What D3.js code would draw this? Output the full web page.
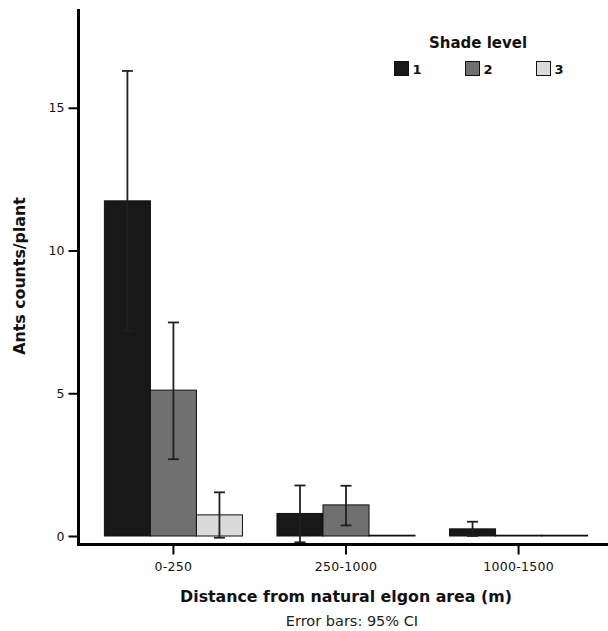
<!DOCTYPE html>
<html>
<head>
<meta charset="utf-8">
<script src="https://cdn.jsdelivr.net/npm/d3@7"></script>
<style>
  html, body { margin: 0; padding: 0; background: #fff; }
  svg { display: block; }
</style>
</head>
<body>
<svg id="chart" width="608" height="631"></svg>
<script>
// ---- data ----
const categories = ["0-250", "250-1000", "1000-1500"];
const shadeLevels = ["1", "2", "3"];
const meanShade1 = [11.74, 0.79, 0.25];
const meanShade2 = [5.11, 1.09, 0];
const meanShade3 = [0.74, 0, 0];
const upperShade1 = [16.29, 1.77, 0.50];
const lowerShade1 = [7.19, -0.22, 0.0];
const upperShade2 = [7.48, 1.76, 0];
const lowerShade2 = [2.69, 0.37, 0];
const upperShade3 = [1.53, 0, 0];
const lowerShade3 = [-0.06, 0, 0];
const yTicks = [0, 5, 10, 15];
const yMax = 18.46;

const means = [meanShade1, meanShade2, meanShade3];
const uppers = [upperShade1, upperShade2, upperShade3];
const lowers = [lowerShade1, lowerShade2, lowerShade3];
const colors = ["#181818", "#707070", "#dadada"];

const rows = [];
categories.forEach((c, ci) => {
  shadeLevels.forEach((s, si) => {
    rows.push({cat: c, shade: s, si, mean: means[si][ci], up: uppers[si][ci], lo: lowers[si][ci]});
  });
});

// ---- layout ----
const svg = d3.select("#chart");
const axisX = 78.5;
const axisY = 544.5;

const y = d3.scaleLinear().domain([0, yMax]).range([536, 9]);
const x0 = d3.scaleBand().domain(categories).range([axisX, 613.5]).paddingInner(0.2).paddingOuter(0.15);
const x1 = d3.scaleBand().domain(shadeLevels).range([0, x0.bandwidth()]).padding(0);
const color = d3.scaleOrdinal().domain(shadeLevels).range(colors);

// bars
const g = svg.append("g");
g.selectAll("rect.bar").data(rows).join("rect")
  .attr("class", "bar")
  .attr("x", d => x0(d.cat) + x1(d.shade))
  .attr("width", x1.bandwidth())
  .attr("y", d => Math.min(y(d.mean), y(0) - 0.8))
  .attr("height", d => Math.max(y(0) - y(d.mean), 0.8))
  .attr("fill", d => color(d.shade))
  .attr("stroke", "#111")
  .attr("stroke-width", 1);

// error bars
const eb = g.selectAll("g.eb").data(rows.filter(d => d.up - d.lo > 0.01)).join("g").attr("class", "eb")
  .attr("stroke", "#202020").attr("stroke-width", 1.8).attr("fill", "none");
const cx = d => x0(d.cat) + x1(d.shade) + x1.bandwidth() / 2;
eb.append("line").attr("x1", cx).attr("x2", cx).attr("y1", d => y(d.up)).attr("y2", d => y(d.lo));
eb.append("line").attr("x1", d => cx(d) - 5.5).attr("x2", d => cx(d) + 5.5).attr("y1", d => y(d.up)).attr("y2", d => y(d.up));
eb.append("line").attr("x1", d => cx(d) - 5.5).attr("x2", d => cx(d) + 5.5).attr("y1", d => y(d.lo)).attr("y2", d => y(d.lo));

// y axis
const yAxis = d3.axisLeft(y).tickValues(yTicks).tickSize(10).tickPadding(4).tickFormat(d3.format("d"));
const yg = svg.append("g").attr("transform", `translate(${axisX},0)`).call(yAxis);
yg.select(".domain").remove();
yg.selectAll(".tick line").attr("stroke", "#000").attr("stroke-width", 2);
yg.selectAll(".tick text").attr("font-family", "DejaVu Sans").attr("font-size", 12.5).attr("fill", "#111");

// x axis
const xAxis = d3.axisBottom(x0).tickSize(10).tickPadding(8);
const xg = svg.append("g").attr("transform", `translate(0,${axisY})`).call(xAxis);
xg.select(".domain").remove();
xg.selectAll(".tick line").attr("stroke", "#000").attr("stroke-width", 2);
xg.selectAll(".tick text").attr("font-family", "DejaVu Sans").attr("font-size", 12.5).attr("fill", "#111").attr("letter-spacing", 0.3);

// axis lines
svg.append("line").attr("x1", axisX).attr("x2", axisX).attr("y1", y(yMax)).attr("y2", axisY + 1.5)
  .attr("stroke", "#000").attr("stroke-width", 3);
svg.append("line").attr("x1", axisX - 1.5).attr("x2", 608).attr("y1", axisY).attr("y2", axisY)
  .attr("stroke", "#000").attr("stroke-width", 3);

// axis titles
svg.append("text").attr("x", 346).attr("y", 601.5).attr("text-anchor", "middle")
  .attr("font-family", "DejaVu Sans").attr("font-weight", "bold").attr("font-size", 15.8).attr("fill", "#111")
  .text("Distance from natural elgon area (m)");
svg.append("text").attr("x", 352).attr("y", 626).attr("text-anchor", "middle")
  .attr("font-family", "DejaVu Sans").attr("font-size", 14.5).attr("fill", "#222")
  .text("Error bars: 95% CI");
svg.append("text").attr("transform", "translate(25,276) rotate(-90)").attr("text-anchor", "middle")
  .attr("font-family", "DejaVu Sans").attr("font-weight", "bold").attr("font-size", 15.8).attr("fill", "#111")
  .text("Ants counts/plant");

// legend
const lg = svg.append("g");
lg.append("text").attr("x", 478).attr("y", 47.5).attr("text-anchor", "middle")
  .attr("font-family", "DejaVu Sans").attr("font-weight", "bold").attr("font-size", 15).attr("fill", "#111")
  .text("Shade level");
const li = lg.selectAll("g.li").data(shadeLevels).join("g").attr("class", "li")
  .attr("transform", (d, i) => `translate(${394.5 + i * 71},61.5)`);
li.append("rect").attr("width", 14).attr("height", 14).attr("fill", d => color(d)).attr("stroke", "#111").attr("stroke-width", 1);
li.append("text").attr("x", 18).attr("y", 12.5)
  .attr("font-family", "DejaVu Sans").attr("font-weight", "bold").attr("font-size", 13).attr("fill", "#111")
  .text(d => d);
</script>
</body>
</html>
